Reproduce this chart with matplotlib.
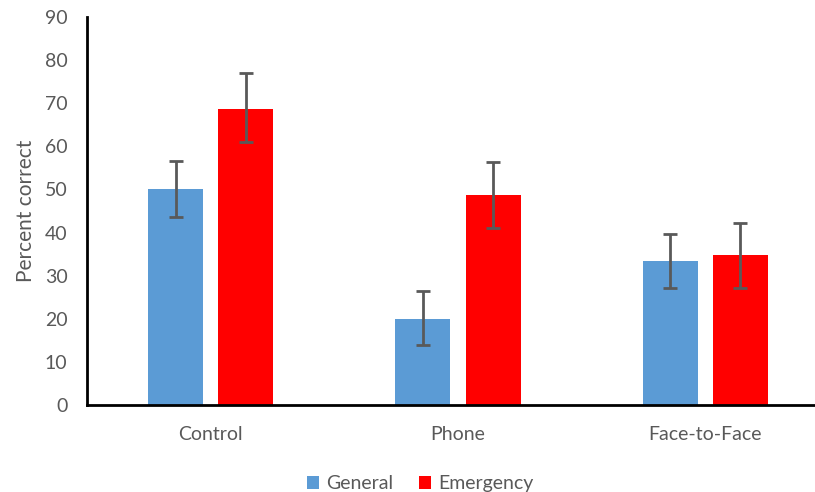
import numpy as np
import matplotlib.pyplot as plt

plt.rcParams['font.family'] = ['Lato', 'DejaVu Sans']

# -----------------------------
# DATA
# -----------------------------

categories = ["Control", "Phone", "Face-to-Face"]
general = [50.0, 20.0, 33.3]
emergency = [68.7, 48.6, 34.7]

general_lo = [43.5, 13.9, 27.2]
general_hi = [56.6, 26.4, 39.7]
emergency_lo = [60.9, 41.1, 27.2]
emergency_hi = [77.0, 56.3, 42.2]

# -----------------------------
# PLOT
# -----------------------------

grey = "#595959"
x = np.arange(len(categories))
w = 0.222
off = 0.142

fig = plt.figure(figsize=(8.15, 4.92), dpi=100)
ax = fig.add_axes([87/815, 87/492, 742/815, 388/492])

g = np.array(general)
e = np.array(emergency)

ax.bar(x - off, g, w, color="#5B9BD5", label="General", zorder=2)
ax.bar(x + off, e, w, color="#FF0000", label="Emergency", zorder=2)

ax.errorbar(
    x - off, g,
    yerr=[g - np.array(general_lo), np.array(general_hi) - g],
    fmt="none", ecolor=grey, elinewidth=2, capsize=5, capthick=2, zorder=3
)
ax.errorbar(
    x + off, e,
    yerr=[e - np.array(emergency_lo), np.array(emergency_hi) - e],
    fmt="none", ecolor=grey, elinewidth=2, capsize=5, capthick=2, zorder=3
)

ax.set_xlim(-0.5, 2.5)
ax.set_ylim(0, 90)
ax.set_yticks(range(0, 91, 10))
ax.set_xticks(x)
ax.set_xticklabels(categories)

for s in ["top", "right"]:
    ax.spines[s].set_visible(False)
ax.spines["left"].set_linewidth(2)
ax.spines["bottom"].set_linewidth(2)
ax.spines["left"].set_color("black")
ax.spines["bottom"].set_color("black")

ax.tick_params(axis="both", length=0, labelsize=14, colors=grey)
ax.tick_params(axis="x", pad=15)
ax.tick_params(axis="y", pad=14)

ax.set_ylabel("Percent correct", fontsize=15, color=grey, labelpad=6)

fig.legend(
    loc="lower center",
    bbox_to_anchor=(420/815, -0.028),
    ncol=2,
    frameon=False,
    fontsize=14,
    labelcolor=grey,
    handlelength=0.65,
    handleheight=0.65,
    handletextpad=0.35,
    columnspacing=1.3,
    borderpad=0.2
)

plt.savefig("out.png", dpi=100)
